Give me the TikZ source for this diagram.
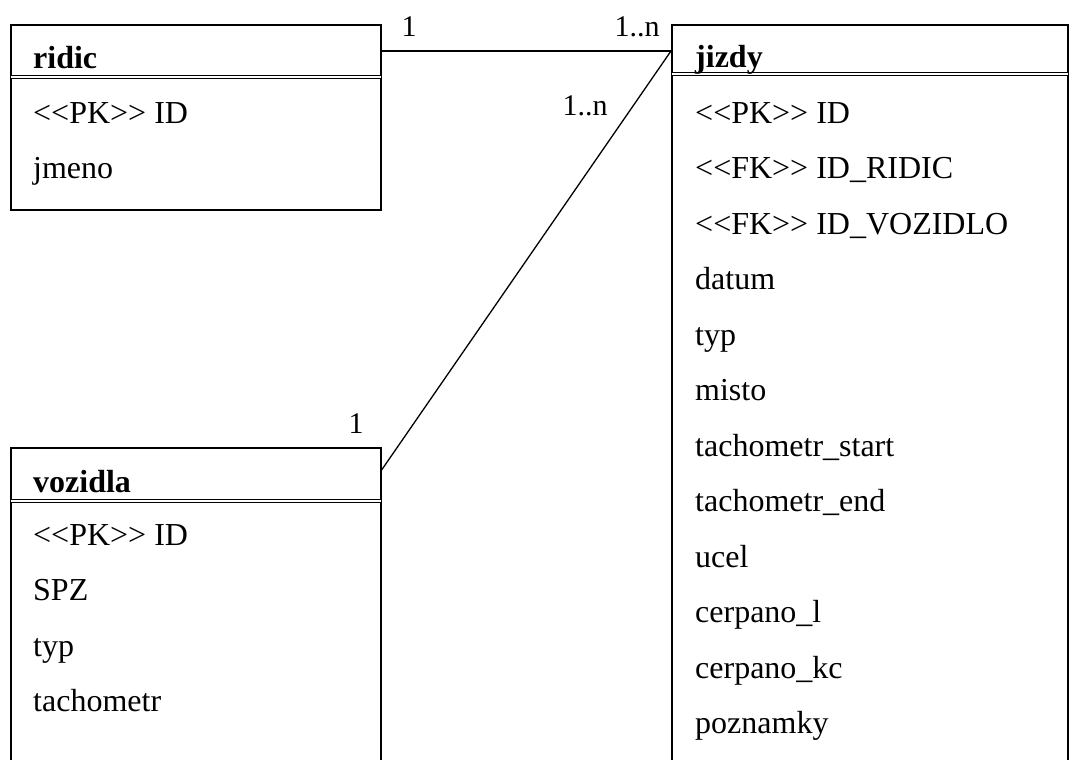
\documentclass[tikz,border=0pt]{standalone}
\usepackage{fontspec}
\setmainfont{Liberation Serif}[Ligatures=TeXOff]
\usetikzlibrary{calc}

\begin{document}
\begin{tikzpicture}[x=1pt, y=-1pt,
  tabulka/.style={draw, line width=1.6pt, anchor=north west, inner sep=0pt},
  deleni/.style={double, double distance=2.4pt, line width=1.1pt, shorten <=0.8pt, shorten >=0.8pt},
  nazev/.style={anchor=base west, inner sep=0pt, font=\fontsize{32}{38}\selectfont\bfseries},
  polozka/.style={anchor=base west, inner sep=0pt, font=\fontsize{32}{38}\selectfont},
  vazba/.style={line width=1.3pt},
  kardinalita/.style={anchor=base, inner sep=0pt, font=\fontsize{30}{36}\selectfont}]
  \useasboundingbox (0,0) rectangle (1069,760);
  \clip (0,0) rectangle (1069,760);

  % tabulka ridic
  \node[tabulka, minimum width=370pt, minimum height=185pt] (ridic) at (10,24) {};
  \draw[deleni] ($(ridic.north west)+(0,53)$) -- ($(ridic.north east)+(0,53)$);
  \node[nazev] (ridic-nazev) at ($(ridic.north west)+(23,45)$) {ridic};
  \foreach \t [count=\i] in {<<PK>> ID, jmeno}
    \node[polozka] (ridic-\i) at ($(ridic.north west)+(23,{43.5+55.5*\i})$) {\t};

  % tabulka vozidla
  \node[tabulka, minimum width=370pt, minimum height=360pt] (vozidla) at (10,447) {};
  \draw[deleni] ($(vozidla.north west)+(0,54)$) -- ($(vozidla.north east)+(0,54)$);
  \node[nazev] (vozidla-nazev) at ($(vozidla.north west)+(23,45)$) {vozidla};
  \foreach \t [count=\i] in {<<PK>> ID, SPZ, typ, tachometr}
    \node[polozka] (vozidla-\i) at ($(vozidla.north west)+(23,{42.5+55.5*\i})$) {\t};

  % tabulka jizdy
  \node[tabulka, minimum width=396pt, minimum height=780pt] (jizdy) at (671,24) {};
  \draw[deleni] ($(jizdy.north west)+(0,50)$) -- ($(jizdy.north east)+(0,50)$);
  \node[nazev] (jizdy-nazev) at ($(jizdy.north west)+(24,44)$) {jizdy};
  \foreach \t [count=\i] in {<<PK>> ID, <<FK>> ID\_RIDIC, <<FK>> ID\_VOZIDLO, datum, typ, misto,
      tachometr\_start, tachometr\_end, ucel, cerpano\_l, cerpano\_kc, poznamky}
    \node[polozka] (jizdy-\i) at ($(jizdy.north west)+(24,{43.5+55.5*\i})$) {\t};

  % vazby
  \coordinate (ridic-vazba) at ($(ridic.north east)+(0,27)$);
  \coordinate (jizdy-vazba) at (ridic-vazba -| jizdy.west);
  \coordinate (vozidla-vazba) at ($(vozidla.north east)+(0,23)$);
  \draw[vazba] (ridic-vazba) -- (jizdy-vazba);
  \draw[vazba] (vozidla-vazba) -- (jizdy-vazba);

  % kardinality
  \node[kardinalita] (k-ridic) at (409,37) {1};
  \node[kardinalita] (k-jizdy1) at (637,37) {1..n};
  \node[kardinalita] (k-jizdy2) at (585,115) {1..n};
  \node[kardinalita] (k-vozidla) at (356,433) {1};
\end{tikzpicture}
\end{document}
